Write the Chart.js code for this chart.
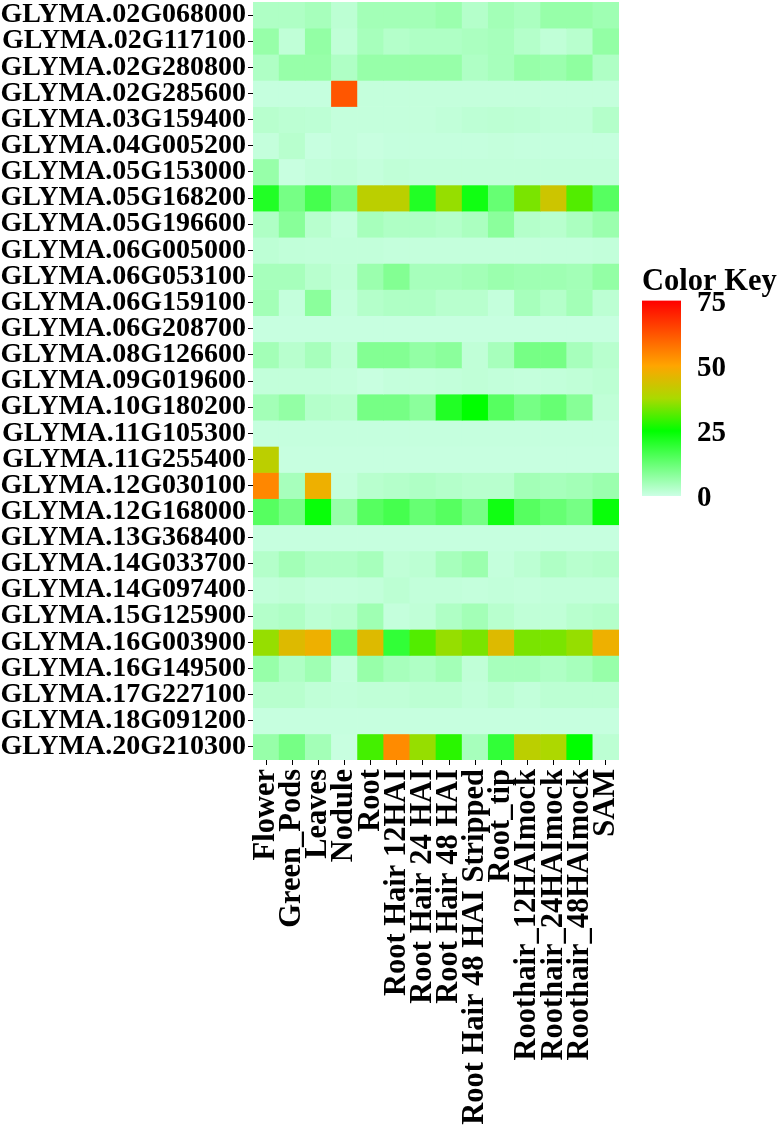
<!DOCTYPE html>
<html lang="en">
<head>
  <meta charset="UTF-8" />
  <title>GLYMA expression heatmap</title>
  <script src="https://cdn.jsdelivr.net/npm/chart.js"></script>
  <style>
    * { margin: 0; padding: 0; box-sizing: border-box; }
    body { width: 780px; height: 1126px; background: #fff; position: relative; overflow: hidden; }
    .heat { position: absolute; left: 0; top: 0; width: 780px; height: 1126px; }
    .key { position: absolute; left: 642px; top: 264px; width: 138px; height: 258px; }
  </style>
</head>
<body>
  <div class="heat"><canvas id="heatChart"></canvas></div>
  <div class="key"><canvas id="keyChart"></canvas></div>

  <script>
    const genes = [
      'GLYMA.02G068000', 'GLYMA.02G117100', 'GLYMA.02G280800', 'GLYMA.02G285600',
      'GLYMA.03G159400', 'GLYMA.04G005200', 'GLYMA.05G153000', 'GLYMA.05G168200',
      'GLYMA.05G196600', 'GLYMA.06G005000', 'GLYMA.06G053100', 'GLYMA.06G159100',
      'GLYMA.06G208700', 'GLYMA.08G126600', 'GLYMA.09G019600', 'GLYMA.10G180200',
      'GLYMA.11G105300', 'GLYMA.11G255400', 'GLYMA.12G030100', 'GLYMA.12G168000',
      'GLYMA.13G368400', 'GLYMA.14G033700', 'GLYMA.14G097400', 'GLYMA.15G125900',
      'GLYMA.16G003900', 'GLYMA.16G149500', 'GLYMA.17G227100', 'GLYMA.18G091200',
      'GLYMA.20G210300'
    ];

    const tissues = [
      'Flower', 'Green_Pods', 'Leaves', 'Nodule', 'Root', 'Root Hair 12HAI',
      'Root Hair 24 HAI', 'Root Hair 48 HAI', 'Root Hair 48 HAI Stripped', 'Root_tip',
      'Roothair_12HAImock', 'Roothair_24HAImock', 'Roothair_48HAImock', 'SAM'
    ];

    // one row per gene, one value per tissue
    const expression = [
      [3.5, 3.5, 4.5, 2, 5, 5, 5, 6, 3, 5, 4, 6.5, 6.5, 5.5],
      [6.5, 1.5, 7, 1.5, 4.5, 3, 3.5, 3.5, 4, 4.5, 3, 1.5, 2.5, 7],
      [3.5, 6.5, 6.5, 3.5, 6.5, 6.5, 6.5, 6.5, 3.5, 4.5, 6.5, 6, 7.5, 3.5],
      [0.8, 0.8, 0.8, 62, 1, 1, 1, 1, 1, 1, 1, 1, 1, 1],
      [2.5, 2, 1.8, 1, 1, 1, 1, 1.3, 1.8, 2, 1.8, 1.3, 1.3, 3],
      [1, 2.5, 0.6, 1, 0.5, 0.8, 0.8, 0.8, 0.8, 1, 0.8, 0.8, 0.8, 0.8],
      [6.5, 0.5, 1.2, 1.5, 1, 1.5, 1.2, 1.2, 1.2, 1.2, 1.2, 1.2, 1.2, 1.2],
      [21, 10.5, 16.5, 10.5, 40, 40, 21, 36, 23, 12.5, 34, 42.5, 31, 14.5],
      [3.5, 8.3, 2.5, 1, 4.5, 3.5, 3.5, 3, 4, 8, 3, 2.5, 4, 6],
      [1.8, 1.3, 1.2, 1.2, 1.2, 1, 1, 1, 1, 1, 1, 1, 1, 1.2],
      [4.5, 4.5, 2.5, 1.5, 6, 9, 4.5, 4.5, 5, 6, 5.5, 5.5, 5, 7],
      [5, 1, 8, 1, 3, 3.5, 3.5, 2.5, 2.5, 1, 4.5, 3, 5, 2],
      [0.6, 0.6, 0.6, 0.6, 0.6, 0.6, 0.6, 0.6, 0.6, 0.6, 0.6, 0.6, 0.6, 0.6],
      [5, 2.5, 4.5, 1.5, 9, 9, 7, 8, 1.5, 4.5, 10.5, 10.5, 4.5, 2.5],
      [1.2, 1.2, 1.2, 1, 0.5, 1, 1, 1.2, 1.5, 1.2, 1, 1.2, 1.5, 2],
      [5, 7, 3, 2.5, 10.5, 10.5, 8, 21, 25, 14.5, 10.5, 12.5, 8.5, 1.5],
      [0.8, 0.8, 0.8, 0.8, 0.8, 0.8, 0.8, 0.8, 0.8, 0.8, 0.8, 0.8, 0.8, 0.8],
      [40, 0.6, 0.6, 0.6, 0.6, 0.6, 0.6, 0.6, 0.6, 0.6, 0.6, 0.6, 0.6, 0.6],
      [54.5, 4.5, 47.5, 1, 2.5, 3, 3.5, 3, 2.5, 2.5, 5, 4.5, 5, 6],
      [14.5, 10.5, 24, 6.5, 14.5, 16.5, 12.5, 14.5, 10.5, 23, 14.5, 12.5, 10.5, 24],
      [0.7, 0.7, 0.7, 0.7, 0.7, 0.7, 0.7, 0.7, 0.7, 0.7, 0.7, 0.7, 0.7, 0.7],
      [3, 5, 3.5, 3.5, 4.5, 1.5, 2, 4.5, 6, 1, 2, 3.5, 2.5, 3],
      [1.2, 1.5, 1, 1, 1.2, 2, 1.2, 1.2, 1, 1.2, 1, 1.2, 1.2, 1.2],
      [3, 3.5, 2, 2.5, 5.5, 1, 1.5, 3.5, 5, 2.5, 1.5, 1.5, 2.5, 3],
      [36, 45, 47.5, 12.5, 45, 19, 31, 36, 34, 45, 34, 34, 36, 47.5],
      [6.5, 3.5, 5.5, 1, 6.5, 4.5, 3.5, 5, 1.5, 4.5, 4.5, 3.5, 4.5, 6.5],
      [2.5, 2.5, 1.5, 1.2, 1.5, 1.5, 2, 2, 1.2, 2, 1.2, 2, 2, 2],
      [0.7, 0.7, 0.7, 0.7, 0.7, 0.7, 0.7, 0.7, 0.7, 0.7, 0.7, 0.7, 0.7, 0.7],
      [6.5, 10.5, 5, 0.5, 30, 54, 36, 28, 4.5, 19, 40, 38, 25, 2]
    ];

    const keyTicks = [0, 25, 50, 75];

    // colour ramp: mint -> green -> yellow-green -> orange -> red
    const ramp = [
      [0, [204, 255, 229]],
      [25, [0, 255, 0]],
      [37.5, [170, 218, 0]],
      [50, [255, 165, 0]],
      [75, [255, 0, 0]]
    ];

    function colorFor(v) {
      for (let i = 1; i < ramp.length; i++) {
        const [v0, c0] = ramp[i - 1];
        const [v1, c1] = ramp[i];
        if (v <= v1 || i === ramp.length - 1) {
          const t = Math.max(0, Math.min(1, (v - v0) / (v1 - v0)));
          const c = c0.map((x, k) => Math.round(x + (c1[k] - x) * t));
          return 'rgb(' + c.join(',') + ')';
        }
      }
    }

    const serif = "'Liberation Serif', 'Times New Roman', serif";

    new Chart(document.getElementById('heatChart'), {
      type: 'bar',
      data: {
        labels: tissues,
        datasets: genes.map((g, r) => ({
          label: g,
          data: expression[r].map(() => [r, r + 1]),
          backgroundColor: expression[r].map(colorFor),
          borderWidth: 0,
          grouped: false,
          barPercentage: 1,
          categoryPercentage: 1
        }))
      },
      options: {
        responsive: true,
        maintainAspectRatio: false,
        animation: false,
        layout: { padding: { top: 2, right: 161, left: 0, bottom: 0 } },
        plugins: {
          legend: { display: false },
          tooltip: { enabled: false }
        },
        scales: {
          x: {
            grid: { drawOnChartArea: false, offset: false, tickLength: 5, color: '#000' },
            border: { display: false },
            ticks: {
              autoSkip: false,
              minRotation: 90,
              maxRotation: 90,
              padding: 4,
              color: '#000',
              font: { family: serif, weight: 'bold', size: 30.5 }
            },
            afterFit: s => { s.height = 366; s.paddingLeft = 0; s.paddingRight = 0; }
          },
          y: {
            reverse: true,
            min: 0,
            max: genes.length,
            grid: { drawOnChartArea: false, tickLength: 5, color: '#000' },
            border: { display: false },
            afterBuildTicks: s => { s.ticks = genes.map((g, i) => ({ value: i + 0.5 })); },
            ticks: {
              autoSkip: false,
              padding: 2,
              color: '#000',
              font: { family: serif, weight: 'bold', size: 28 },
              callback: (v, i) => genes[i]
            },
            afterFit: s => { s.width = 253; s.paddingTop = 0; s.paddingBottom = 0; }
          }
        }
      }
    });

    // colour key
    new Chart(document.getElementById('keyChart'), {
      type: 'bar',
      data: {
        labels: [''],
        datasets: [{
          data: [[keyTicks[0], keyTicks[keyTicks.length - 1]]],
          backgroundColor: (c) => {
            const chart = c.chart;
            if (!chart.chartArea) return null;
            const y = chart.scales.y;
            const top = keyTicks[keyTicks.length - 1];
            const g = chart.ctx.createLinearGradient(0, y.getPixelForValue(0), 0, y.getPixelForValue(top));
            ramp.forEach(([v, rgb]) => g.addColorStop(v / top, 'rgb(' + rgb.join(',') + ')'));
            return g;
          },
          borderWidth: 0,
          barPercentage: 1,
          categoryPercentage: 1
        }]
      },
      options: {
        responsive: true,
        maintainAspectRatio: false,
        animation: false,
        layout: { padding: { top: 0, left: 0, right: 0, bottom: 26 } },
        plugins: {
          legend: { display: false },
          tooltip: { enabled: false },
          title: {
            display: true,
            text: 'Color Key',
            align: 'start',
            color: '#000',
            font: { family: serif, weight: 'bold', size: 30.5 },
            padding: { top: 0, bottom: 0 }
          }
        },
        scales: {
          x: { display: false },
          y: {
            position: 'right',
            min: 0,
            max: 75,
            afterBuildTicks: s => { s.ticks = keyTicks.map(v => ({ value: v })); },
            grid: { display: false },
            border: { display: false },
            ticks: {
              padding: 8,
              labelOffset: 3,
              color: '#000',
              font: { family: serif, weight: 'bold', size: 29 }
            },
            afterFit: s => { s.width = 99; s.paddingTop = 0; s.paddingBottom = 0; }
          }
        }
      }
    });
  </script>
</body>
</html>
